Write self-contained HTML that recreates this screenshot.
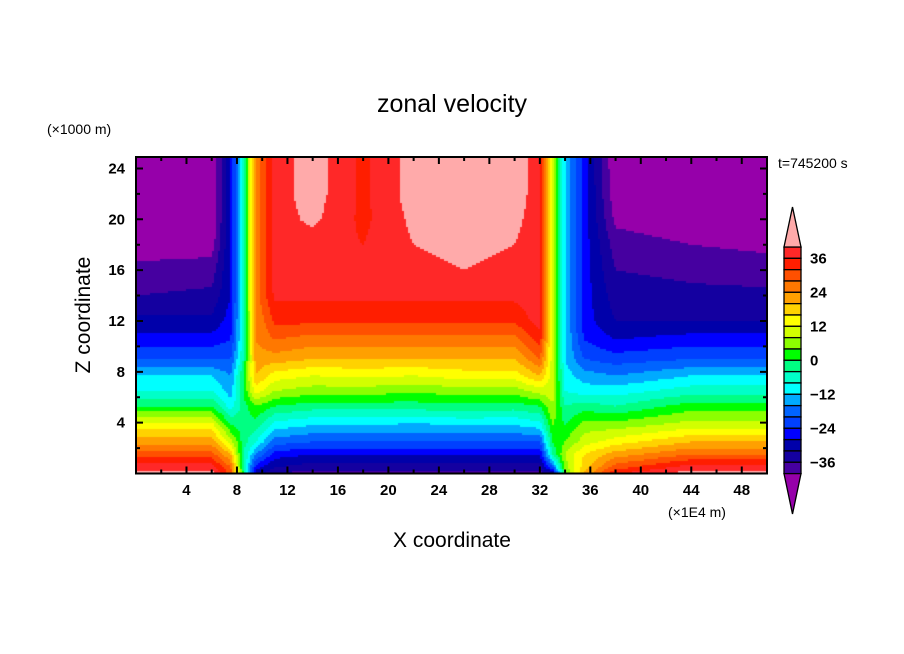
<!DOCTYPE html>
<html><head><meta charset="utf-8"><style>
body{margin:0;background:#fff;width:904px;height:654px;overflow:hidden;font-family:"Liberation Sans",sans-serif}
#wrap{position:relative;width:904px;height:654px}
canvas{position:absolute;left:136px;top:157px}
svg{position:absolute;left:0;top:0}
</style></head><body><div id="wrap">
<canvas id="cv" width="631" height="316"></canvas>
<svg id="sv" width="904" height="654"></svg>
</div>
<script>
const xs=[0,6,7.5,8.5,9.5,11,14,18,22,26,30,32,33,34,35.5,38,44,50];
const zs=[0,0.5,1.5,2.5,3.8,5.3,6.5,7.7,9,10.5,12,14,16,18,20,22,25];
const cols=[
[42,38,30,22,14,0,-8,-12,-20,-26,-31,-36,-39,-42,-44,-44,-44],
[42,38,30,22,14,0,-8,-12,-20,-26,-31,-35,-38,-42,-44,-44,-44],
[30,28,20,10,0,-10,-14,-16,-20,-24,-26,-28,-28,-28,-28,-28,-28],
[0,-2,-4,-2,-2,-2,0,0,-4,-6,-6,-6,-6,-6,-6,-6,-6],
[-30,-26,-16,-8,-2,4,14,20,22,24,24,26,26,26,26,26,26],
[-36,-32,-26,-18,-10,0,8,14,22,28,33,37,38,38,38,38,38],
[-38,-34,-28,-20,-12,-2,6,12,20,26,33,37,38,38,41,42,42],
[-38,-34,-28,-20,-12,-2,6,13,20,26,33,37,37,36,35,35,35],
[-38,-34,-28,-20,-13,-2,5,12,20,26,33,37,38,40,41,42,42],
[-38,-34,-28,-20,-12,-1,6,14,20,26,33,37,40,42,42,42,42],
[-38,-34,-28,-20,-12,-2,6,14,20,26,33,37,38,40,41,42,42],
[-38,-34,-28,-20,-10,0,10,20,28,34,38,38,38,38,38,38,38],
[-34,-20,-4,0,4,8,10,10,10,10,10,10,10,10,10,10,10],
[4,6,8,4,0,-4,-8,-10,-12,-12,-12,-12,-12,-12,-12,-12,-12],
[20,18,16,10,6,-2,-10,-14,-20,-24,-26,-26,-26,-26,-26,-26,-26],
[36,30,22,14,6,-4,-10,-16,-22,-28,-32,-34,-36,-38,-41,-43,-44],
[42,38,28,20,10,2,-6,-12,-20,-26,-32,-35,-37,-40,-43,-44,-44],
[42,38,28,20,10,2,-6,-12,-20,-26,-32,-35,-38,-41,-44,-44,-44]];
const levelColors=["#ff2828","#ff1e00","#ff5000","#ff7800","#ffa000","#ffd200","#ffff00","#d2ff00","#8cff00","#00ff00","#00ff82","#00ffc8","#00ffff","#00aaff","#0064ff","#0040ff","#0000ff","#0000aa","#1400a0","#4600a0"];
const overColor="#ffaaaa",underColor="#9600aa";
const xTicks=[4,8,12,16,20,24,28,32,36,40,44,48];
const zTicks=[4,8,12,16,20,24];
const cbLabels=[36,24,12,0,-12,-24,-36];
const X0=136,X1=767,Y0=473.5,Y1=157,XMAX=50,ZMAX=24.9;
const sx=v=>X0+v/XMAX*(X1-X0), sz=v=>Y0-v/ZMAX*(Y0-Y1);
function seg(arr,v){let i=0;while(i<arr.length-2&&v>arr[i+1])i++;let t=(v-arr[i])/(arr[i+1]-arr[i]);return [i,Math.max(0,Math.min(1,t))];}
function val(x,z){const [i,t]=seg(xs,x),[j,u]=seg(zs,z);
return (1-t)*(1-u)*cols[i][j]+t*(1-u)*cols[i+1][j]+(1-t)*u*cols[i][j+1]+t*u*cols[i+1][j+1];}
function col(v){if(v>=40)return overColor;if(v<-40)return underColor;return levelColors[Math.min(19,Math.floor((40-v)/4))];}
const cv=document.getElementById('cv'),ctx=cv.getContext('2d');
for(let py=0;py<316;py+=2)for(let px=0;px<631;px+=2){
 const x=(px+1)/631*XMAX,z=(Y0-(157+py+1))/(Y0-Y1)*ZMAX;
 ctx.fillStyle=col(val(x,z));ctx.fillRect(px,py,2,2);}
const NS="http://www.w3.org/2000/svg",sv=document.getElementById('sv');
function mk(tag,attrs,txt){const e=document.createElementNS(NS,tag);for(const k in attrs)e.setAttribute(k,attrs[k]);if(txt!==undefined)e.textContent=txt;sv.appendChild(e);return e;}
let e;
e=mk('rect',{x:X0,y:Y1,width:X1-X0,height:Y0-Y1,fill:'none',stroke:'#000','stroke-width':2});


for(let v=2;v<XMAX;v+=2){const L=v%4==0?7:4;
 e=mk('path',{d:`M${sx(v)},${Y0}v${-L}M${sx(v)},${Y1}v${L}`,stroke:'#000','stroke-width':2});
 
 }
for(let v=2;v<ZMAX;v+=2){const L=v%4==0?7:4;
 e=mk('path',{d:`M${X0},${sz(v)}h${L}M${X1},${sz(v)}h${-L}`,stroke:'#000','stroke-width':2});
 
 }
xTicks.forEach(v=>{e=mk('text',{x:sx(v),y:495,'text-anchor':'middle','font-size':15,'font-weight':'bold'},v);
 
 });
zTicks.forEach(v=>{e=mk('text',{x:125,y:sz(v)+5,'text-anchor':'end','font-size':15,'font-weight':'bold'},v);
 
 });
const CBX=784,CBW=17,CBT=247,BH=11.33;
levelColors.forEach((c,i)=>{e=mk('rect',{x:CBX,y:CBT+i*BH,width:CBW,height:BH,fill:c,stroke:'#000','stroke-width':1.3});
 
 });
const CBB=CBT+20*BH;
e=mk('path',{d:`M${CBX},${CBT}L${CBX+CBW/2},207L${CBX+CBW},${CBT}Z`,fill:overColor,stroke:'#000','stroke-width':1.3});


e=mk('path',{d:`M${CBX},${CBB}L${CBX+CBW/2},514L${CBX+CBW},${CBB}Z`,fill:underColor,stroke:'#000','stroke-width':1.3});


cbLabels.forEach(v=>{e=mk('text',{x:810,y:CBT+(40-v)/4*BH+5,'font-size':15,'font-weight':'bold'},v<0?'\u2212'+(-v):v);
 
 });
</script>
<svg width="904" height="654" style="position:absolute;left:0;top:0;pointer-events:none">
<text x="452" y="112" text-anchor="middle" font-size="25">zonal velocity</text>
<text x="47" y="134" font-size="14">(×1000 m)</text>
<text x="778" y="168" font-size="14">t=745200 s</text>
<text x="668" y="517" font-size="14">(×1E4 m)</text>
<text x="452" y="547" text-anchor="middle" font-size="21">X coordinate</text>
<text x="90" y="315" text-anchor="middle" font-size="21" transform="rotate(-90 90 315)">Z coordinate</text>
</svg>
</body></html>
